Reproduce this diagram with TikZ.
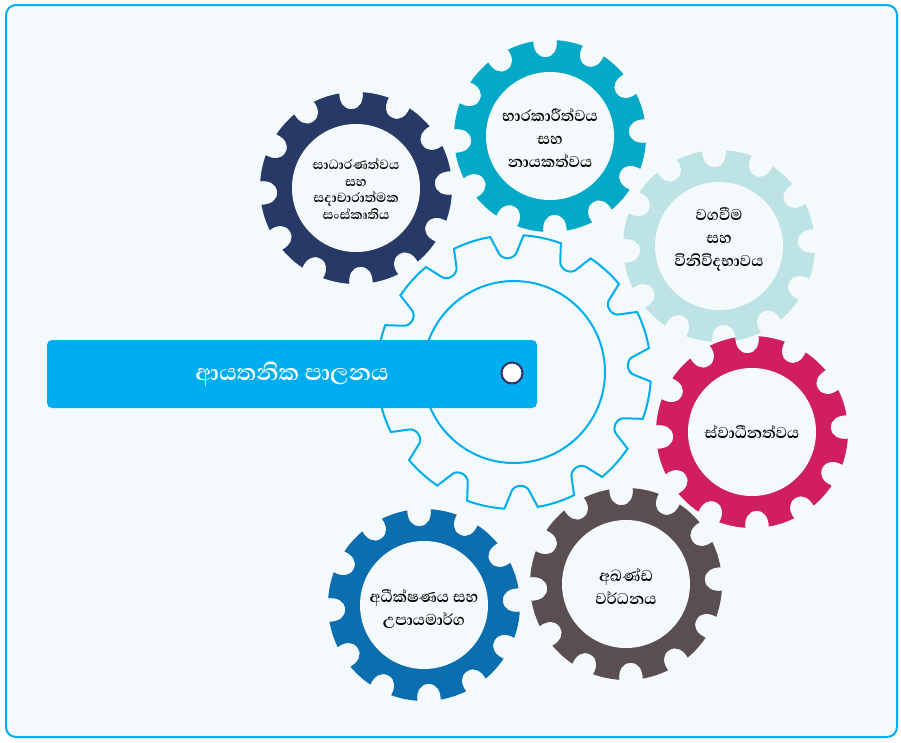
\documentclass[tikz,border=0pt]{standalone}
\usepackage{fontspec}
\newfontfamily\sinfont[Script=Sinhala]{Abhaya Libre}
\definecolor{bgfill}{HTML}{F4FAFB}
\definecolor{mainblue}{HTML}{00AEEF}
\definecolor{navygear}{HTML}{273A67}
\definecolor{cyangear}{HTML}{04A9C7}
\definecolor{tealgear}{HTML}{BEE3E4}
\definecolor{rosegear}{HTML}{D11E61}
\definecolor{greygear}{HTML}{5B4E53}
\definecolor{bluegear}{HTML}{0A6EAF}
\definecolor{knobnavy}{HTML}{2E3467}

\begin{document}
\begin{tikzpicture}[x=1pt, y=1pt,
  cogtext/.style={font=\sinfont\bfseries\fontsize{20}{23}\selectfont, align=center, text=black},
  banner/.style={fill=mainblue, rounded corners=5pt, minimum width=490pt, minimum height=68pt,
    text=white, font=\sinfont\bfseries\fontsize{29}{30}\selectfont},
  knob/.style={circle, fill=white, draw=knobnavy, line width=2pt, minimum size=21pt, inner sep=0pt},
  pics/cog/.style={code={
    \fill[#1] (10:96) \foreach \a in {3,33,...,333} {
        arc[start angle=\a+7, end angle=\a+23, radius=96]
        to[out=\a+213, in=\a-60, looseness=1.1] (\a+30:79)
        to[out=\a+120, in=\a+207, looseness=1.1] (\a+37:96)
      } -- cycle;
    \fill[bgfill] (0,0) circle[radius=64];
  }},
  pics/maincog/.style={code={
    \draw[line width=2pt, draw=mainblue, fill=bgfill] (10:137) \foreach \a in {3,33,...,333} {
        arc[start angle=\a+7, end angle=\a+23, radius=137]
        -- (\a+25.5:121) .. controls (\a+26.5:112) and (\a+33.5:112) .. (\a+34.5:121)
        -- (\a+37:137)
      } -- cycle;
    \draw[line width=2pt, draw=mainblue] (0,0) circle[radius=91];
  }},
]
  \useasboundingbox (0,0) rectangle (901,-742);
  \draw[mainblue, line width=2pt, rounded corners=10pt, fill=bgfill] (6,-5) rectangle (897,-737);

  % gears
  \pic at (514,-372) {maincog};
  \pic at (356,-188) {cog=navygear};
  \pic at (550,-136) {cog=cyangear};
  \pic at (719,-246) {cog=tealgear};
  \pic at (752,-432) {cog=rosegear};
  \pic at (626,-584) {cog=greygear};
  \pic at (424,-605) {cog=bluegear};

  \node[cogtext, font=\sinfont\bfseries\fontsize{17}{16.5}\selectfont] (fairness) at (356,-189)
    {සාධාරණත්වය\\සහ\\සදාචාරාත්මක\\සංස්කෘතිය};
  \node[cogtext] (stewardship) at (550,-138) {භාරකාරීත්වය\\සහ\\නායකත්වය};
  \node[cogtext] (accountability) at (719,-239) {වගවීම\\සහ\\විනිවිදභාවය};
  \node[cogtext] (independence) at (752,-432) {ස්වාධීනත්වය};
  \node[cogtext] (growth) at (626,-587) {අඛණ්ඩ\\වර්ධනය};
  \node[cogtext] (oversight) at (424,-609) {අධීක්ෂණය සහ\\උපායමාර්ග};

  \node[banner] (title) at (292,-374) {ආයතනික පාලනය};
  \node[knob] (knob) at (512,-373) {};
\end{tikzpicture}
\end{document}
